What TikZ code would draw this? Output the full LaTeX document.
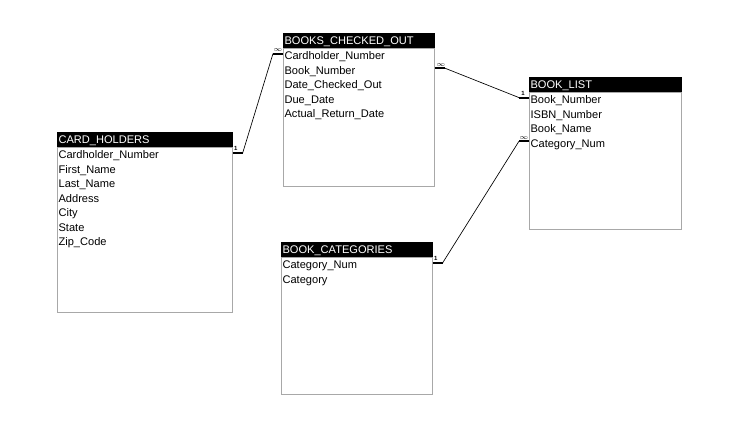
\documentclass[tikz,border=0pt]{standalone}
\usepackage{fontspec}
\setmainfont{Liberation Sans}
\usetikzlibrary{positioning,calc}
\definecolor{framegray}{HTML}{A8A8A8}

\begin{document}
\begin{tikzpicture}[
  x=0.75pt, y=-0.75pt,
  tbl/.style={rectangle, draw=framegray, line width=0.6pt, anchor=north west,
              inner sep=0pt},
  hdr/.style={rectangle, fill=black, draw=black, text=white, anchor=south west,
              inner xsep=1pt, inner ysep=0pt, minimum height=11pt,
              text height=7.3pt, text depth=0.8pt, text width=#1,
              font=\fontsize{8.3}{10}\selectfont},
  field/.style={inner xsep=1pt, inner ysep=0pt, text width=100pt, align=left,
                text height=7.6pt, text depth=2.9pt,
                font=\fontsize{8.3}{10}\selectfont},
  rel/.style={line width=0.5pt, black},
  stub/.style={line width=1.6pt, black},
  card/.style={font=\fontsize{4.5}{5}\selectfont\bfseries, inner sep=0.6pt},
]
  \useasboundingbox (0,0) rectangle (749,441);

  % CARD_HOLDERS
  \node[tbl, minimum width=131.25pt, minimum height=123.75pt] (chbox) at (57,147) {};
  \node[hdr=129.25pt] (chhead) at (chbox.north west) {CARD\_HOLDERS};
  \node[field, below=1pt of chbox.north west, anchor=north west] (ch1) {Cardholder\_Number};
  \node[field, below=0pt of ch1] (ch2) {First\_Name};
  \node[field, below=0pt of ch2] (ch3) {Last\_Name};
  \node[field, below=0pt of ch3] (ch4) {Address};
  \node[field, below=0pt of ch4] (ch5) {City};
  \node[field, below=0pt of ch5] (ch6) {State};
  \node[field, below=0pt of ch6] (ch7) {Zip\_Code};

  % BOOKS_CHECKED_OUT
  \node[tbl, minimum width=113.25pt, minimum height=103.5pt] (bcobox) at (283,48) {};
  \node[hdr=111.25pt] (bcohead) at (bcobox.north west) {BOOKS\_CHECKED\_OUT};
  \node[field, below=1pt of bcobox.north west, anchor=north west] (bco1) {Cardholder\_Number};
  \node[field, below=0pt of bco1] (bco2) {Book\_Number};
  \node[field, below=0pt of bco2] (bco3) {Date\_Checked\_Out};
  \node[field, below=0pt of bco3] (bco4) {Due\_Date};
  \node[field, below=0pt of bco4] (bco5) {Actual\_Return\_Date};

  % BOOK_LIST
  \node[tbl, minimum width=114pt, minimum height=102.75pt] (blbox) at (529,92) {};
  \node[hdr=112pt] (blhead) at (blbox.north west) {BOOK\_LIST};
  \node[field, below=1pt of blbox.north west, anchor=north west] (bl1) {Book\_Number};
  \node[field, below=0pt of bl1] (bl2) {ISBN\_Number};
  \node[field, below=0pt of bl2] (bl3) {Book\_Name};
  \node[field, below=0pt of bl3] (bl4) {Category\_Num};

  % BOOK_CATEGORIES
  \node[tbl, minimum width=113.25pt, minimum height=102.75pt] (catbox) at (281,257) {};
  \node[hdr=111.25pt] (cathead) at (catbox.north west) {BOOK\_CATEGORIES};
  \node[field, below=1pt of catbox.north west, anchor=north west] (cat1) {Category\_Num};
  \node[field, below=0pt of cat1] (cat2) {Category};

  % relationship end points
  \coordinate (chA) at ($(chbox.east |- ch1)+(0,-3)$);
  \coordinate (chB) at ($(chA)+(10,0)$);
  \coordinate (bcoA) at ($(bcobox.west |- bco1)+(0,-3)$);
  \coordinate (bcoB) at ($(bcoA)+(-10,0)$);
  \coordinate (bcoC) at ($(bcobox.east |- bco2)+(0,-3)$);
  \coordinate (bcoD) at ($(bcoC)+(10,0)$);
  \coordinate (blA) at ($(blbox.west |- bl1)+(0,-3)$);
  \coordinate (blB) at ($(blA)+(-10,0)$);
  \coordinate (blC) at ($(blbox.west |- bl4)+(0,-3)$);
  \coordinate (blD) at ($(blC)+(-10,0)$);
  \coordinate (catA) at ($(catbox.east |- cat1)+(0,-3)$);
  \coordinate (catB) at ($(catA)+(10,0)$);

  \draw[stub] (chA) -- (chB) node[card, above, pos=0.3] {1};
  \draw[stub] (bcoA) -- (bcoB) node[card, above, pos=0.5] {$\infty$};
  \draw[rel] (chB) -- (bcoB);

  \draw[stub] (bcoC) -- (bcoD) node[card, above, pos=0.6] {$\infty$};
  \draw[stub] (blA) -- (blB) node[card, above, pos=0.6] {1};
  \draw[rel] (bcoD) -- (blB);

  \draw[stub] (catA) -- (catB) node[card, above, pos=0.3] {1};
  \draw[stub] (blC) -- (blD) node[card, above, pos=0.5] {$\infty$};
  \draw[rel] (catB) -- (blD);
\end{tikzpicture}
\end{document}
